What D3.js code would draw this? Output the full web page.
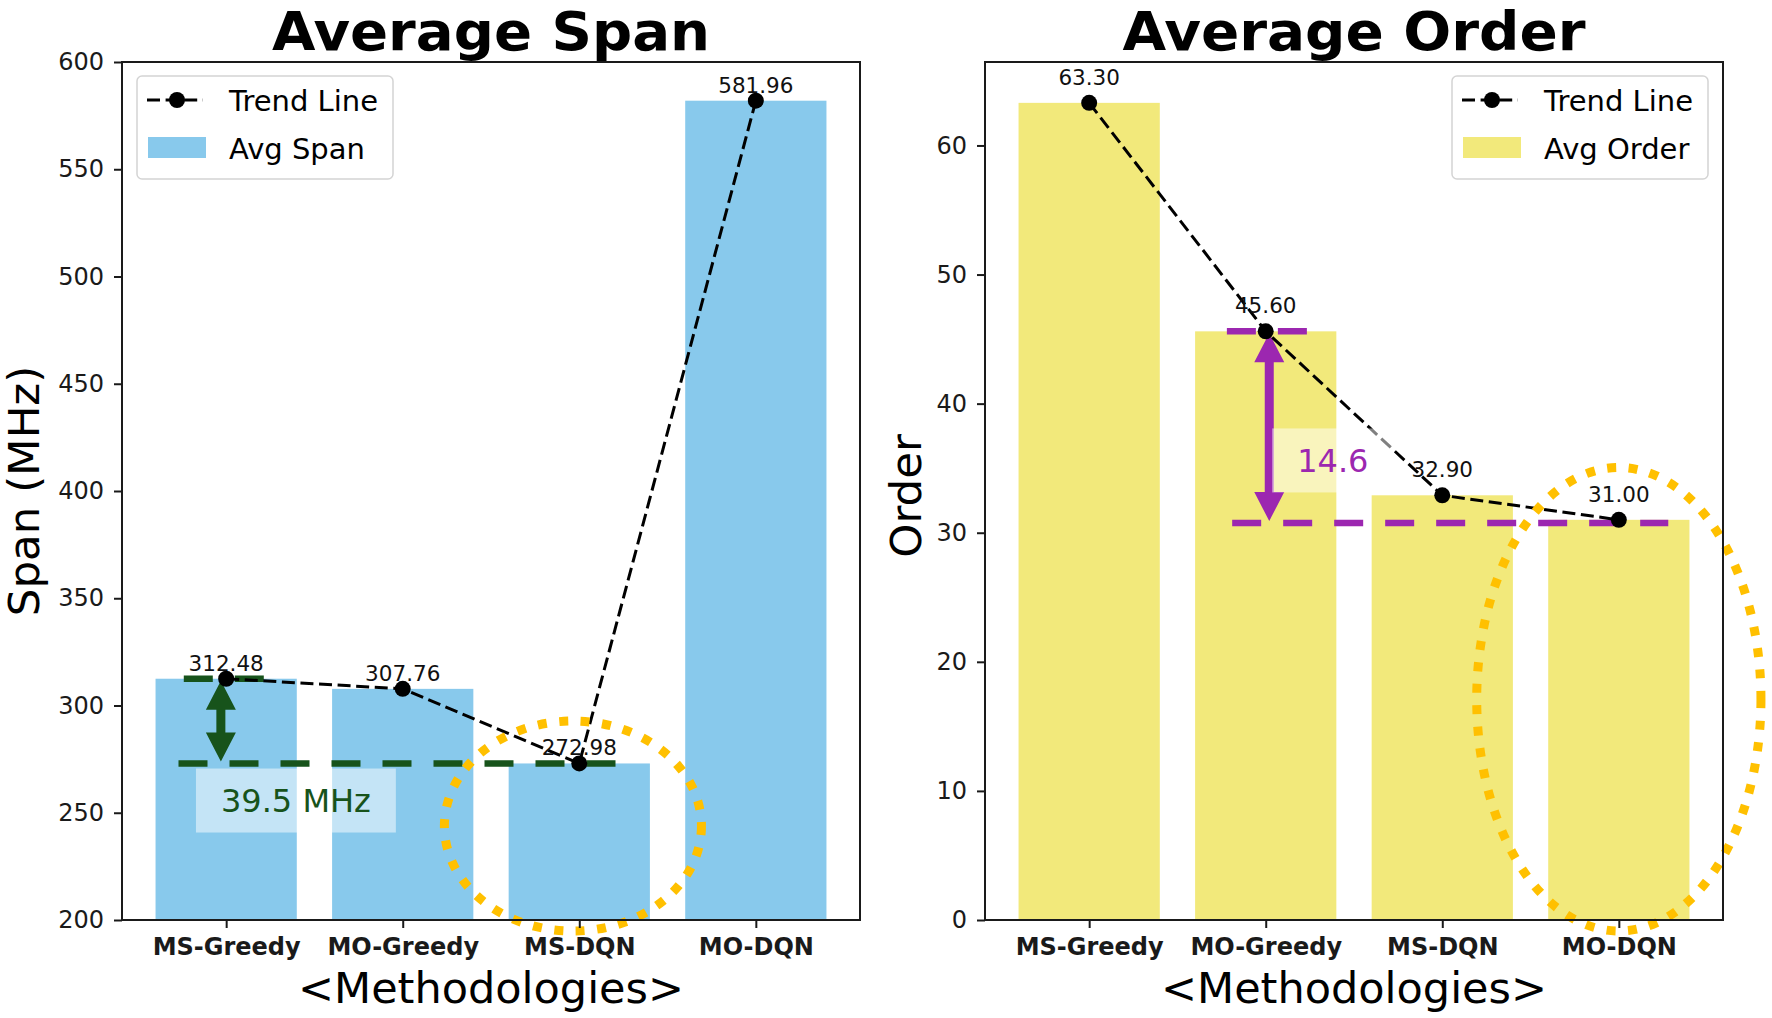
<!DOCTYPE html>
<html>
<head>
<meta charset="utf-8">
<script src="https://cdn.jsdelivr.net/npm/d3@7"></script>
<style>
body { margin: 0; background: #fff; }
svg { display: block; font-family: "DejaVu Sans", sans-serif; }
</style>
</head>
<body>
<div id="chart-area"></div>
<script>

// ---- data ----
var methods = ["MS-Greedy", "MO-Greedy", "MS-DQN", "MO-DQN"];
var spanValues = [312.48, 307.76, 272.98, 581.96];
var orderValues = [63.30, 45.60, 32.90, 31.00];
var spanTicks = [200, 250, 300, 350, 400, 450, 500, 550, 600];
var orderTicks = [0, 10, 20, 30, 40, 50, 60];

// annotation values (data units)
var spanGapLevels = [312.48, 272.98];
var spanGapText = "39.5 MHz";
var orderGapLevels = [45.60, 30.75];
var orderGapText = "14.6";

var total_width = 1772, total_height = 1018;

var svg = d3.select('#chart-area').append('svg')
            .attr("width", total_width)
            .attr("height", total_height);

svg.append("rect").attr("width", total_width).attr("height", total_height).attr("fill", "#fff");

var top_y = 62, bottom_y = 920;

var panels = [
  {
    left: 122, right: 860,
    domain: [200, 600], ticks: spanTicks, values: spanValues,
    title: "Average Span", titleLen: 438, ylabel: "Span (MHz)", ylabelX: 39, ylabelY: 491,
    barColor: "#88c9ec", legendName: "Avg Span", legendSide: "left",
    labelOffset: 8,
    gap: spanGapLevels, gapText: spanGapText, gapColor: "#17531b",
    topLine: [-0.24, 0.26], bottomLine: [-0.27, 2.22], arrowX: -0.03,
    box: {x: 0.395, y: 255.7},
    ellipse: {x: 1.964, y: 243.8, rx: 0.728, ry: 48.95}
  },
  {
    left: 985, right: 1723,
    domain: [0, 66.465], ticks: orderTicks, values: orderValues,
    title: "Average Order", titleLen: 463, ylabel: "Order", ylabelX: 921, ylabelY: 496,
    barColor: "#f2e97b", legendName: "Avg Order", legendSide: "right",
    labelOffset: 18,
    gap: orderGapLevels, gapText: orderGapText, gapColor: "#9c27b0",
    topLine: [0.78, 1.24], bottomLine: [0.81, 3.28], arrowX: 1.02,
    box: {x: 1.38, y: 35.6},
    ellipse: {x: 3.0, y: 17.1, rx: 0.805, ry: 17.95}
  }
];

panels.forEach(function(p) {

  var x = d3.scaleLinear().domain([-0.59, 3.59]).range([p.left, p.right]);
  var y = d3.scaleLinear().domain(p.domain).range([bottom_y, top_y]);
  var mid = (p.left + p.right) / 2;

  var g = svg.append('g');

  // bars
  g.selectAll('.bar').data(p.values).enter().append('rect')
   .attr("x", (d, i) => x(i - 0.4))
   .attr("width", x(0.4) - x(-0.4))
   .attr("y", d => y(d))
   .attr("height", d => y(p.domain[0]) - y(d))
   .attr("fill", p.barColor);

  // gap guide lines
  var lines = [[p.gap[0], p.topLine], [p.gap[1], p.bottomLine]];
  lines.forEach(function(l) {
    g.append('line')
     .attr("x1", x(l[1][0])).attr("x2", x(l[1][1]))
     .attr("y1", y(l[0])).attr("y2", y(l[0]))
     .attr("stroke", p.gapColor).attr("stroke-width", 6.5)
     .attr("stroke-dasharray", "29 22");
  });

  // double arrow
  var ax = x(p.arrowX), yt = y(p.gap[0]) + 2, yb = y(p.gap[1]) - 2;
  var hl = 29, hw = 15, sw = 4.5;
  g.append('path')
   .attr("d", "M" + ax + "," + yt +
              "L" + (ax + hw) + "," + (yt + hl) + "L" + (ax + sw) + "," + (yt + hl) +
              "L" + (ax + sw) + "," + (yb - hl) + "L" + (ax + hw) + "," + (yb - hl) +
              "L" + ax + "," + yb +
              "L" + (ax - hw) + "," + (yb - hl) + "L" + (ax - sw) + "," + (yb - hl) +
              "L" + (ax - sw) + "," + (yt + hl) + "L" + (ax - hw) + "," + (yt + hl) + "Z")
   .attr("fill", p.gapColor);

  // trend line
  var lineFunction = d3.line()
      .x((d, i) => x(i))
      .y(d => y(d));

  g.append('path').datum(p.values)
   .attr("d", lineFunction)
   .attr("fill", "none").attr("stroke", "#000")
   .attr("stroke-width", 3).attr("stroke-dasharray", "13 5.6");

  g.selectAll('.pt').data(p.values).enter().append('circle')
   .attr("cx", (d, i) => x(i)).attr("cy", d => y(d)).attr("r", 8)
   .attr("fill", "#000");

  // gap text box
  var bx = x(p.box.x), by = y(p.box.y);
  var boxG = g.append('g');
  var boxRect = boxG.append('rect').attr("fill", "#fff").attr("opacity", 0.5);
  var boxText = boxG.append('text')
   .attr("x", bx).attr("y", by + 11.5)
   .attr("text-anchor", "middle")
   .attr("font-size", "32px")
   .attr("fill", p.gapColor)
   .text(p.gapText);
  var tw = boxText.node().getComputedTextLength();
  boxRect.attr("x", bx - tw / 2 - 25).attr("width", tw + 50)
         .attr("y", by - 32).attr("height", 64);

  // dotted ellipse
  g.append('ellipse')
   .attr("cx", x(p.ellipse.x)).attr("cy", y(p.ellipse.y))
   .attr("rx", x(p.ellipse.rx) - x(0)).attr("ry", y(p.domain[0]) - y(p.domain[0] + p.ellipse.ry))
   .attr("fill", "none").attr("stroke", "#ffc000")
   .attr("stroke-width", 9).attr("stroke-dasharray", "9 12.5");

  // value labels
  g.selectAll('.val').data(p.values).enter().append('text')
   .attr("x", (d, i) => x(i)).attr("y", d => y(d) - p.labelOffset)
   .attr("text-anchor", "middle").attr("font-size", "21.5px")
   .attr("fill", "#111")
   .text(d => d.toFixed(2));

  // axes
  var yAxis = d3.axisLeft(y).tickValues(p.ticks).tickSize(8).tickPadding(10);
  var yG = g.append('g').attr("transform", "translate(" + p.left + ",0)").call(yAxis);
  var xAxis = d3.axisBottom(x).tickValues([0, 1, 2, 3]).tickFormat(i => methods[i])
                .tickSize(8).tickPadding(10);
  var xG = g.append('g').attr("transform", "translate(0," + bottom_y + ")").call(xAxis);
  [yG, xG].forEach(function(a) {
    a.select('.domain').remove();
    a.selectAll('line').attr("stroke", "#1a1a1a").attr("stroke-width", 2);
    a.selectAll('text').attr("fill", "#1a1a1a").attr("font-family", "DejaVu Sans");
  });
  yG.selectAll('text').attr("font-size", "24px");
  xG.selectAll('text').attr("font-size", "24px").attr("font-weight", "bold");

  g.append('rect')
   .attr("x", p.left).attr("y", top_y)
   .attr("width", p.right - p.left).attr("height", bottom_y - top_y)
   .attr("fill", "none").attr("stroke", "#1a1a1a").attr("stroke-width", 2);

  // titles and axis labels
  g.append('text').attr("x", mid).attr("y", 50)
   .attr("text-anchor", "middle").attr("font-size", "54px").attr("font-weight", "bold")
   .attr("textLength", p.titleLen).attr("lengthAdjust", "spacingAndGlyphs")
   .text(p.title);

  g.append('text').attr("x", mid).attr("y", 1003)
   .attr("text-anchor", "middle").attr("font-size", "43px")
   .text("<Methodologies>");

  g.append('text')
   .attr("transform", "translate(" + p.ylabelX + "," + p.ylabelY + ") rotate(-90)")
   .attr("text-anchor", "middle").attr("font-size", "43.5px")
   .text(p.ylabel);

  // legend
  var lw = 256, lh = 103;
  var lx = p.legendSide == 'left' ? p.left + 15 : p.right - 15 - lw;
  var ly = 76;
  var leg = g.append('g').attr("transform", "translate(" + lx + "," + ly + ")");
  leg.append('rect').attr("width", lw).attr("height", lh).attr("rx", 5)
     .attr("fill", "#fff").attr("fill-opacity", 0.8)
     .attr("stroke", "#d4d4d4").attr("stroke-width", 1.5);
  leg.append('line').attr("x1", 10).attr("x2", 66).attr("y1", 24).attr("y2", 24)
     .attr("stroke", "#000").attr("stroke-width", 3).attr("stroke-dasharray", "13 5.6");
  leg.append('circle').attr("cx", 40).attr("cy", 24).attr("r", 8).attr("fill", "#000");
  leg.append('rect').attr("x", 11).attr("y", 61).attr("width", 58).attr("height", 21)
     .attr("fill", p.barColor);
  leg.append('text').attr("x", 92).attr("y", 35).attr("font-size", "29px").text("Trend Line");
  leg.append('text').attr("x", 92).attr("y", 83).attr("font-size", "29px").text(p.legendName);
});

</script>
</body>
</html>
